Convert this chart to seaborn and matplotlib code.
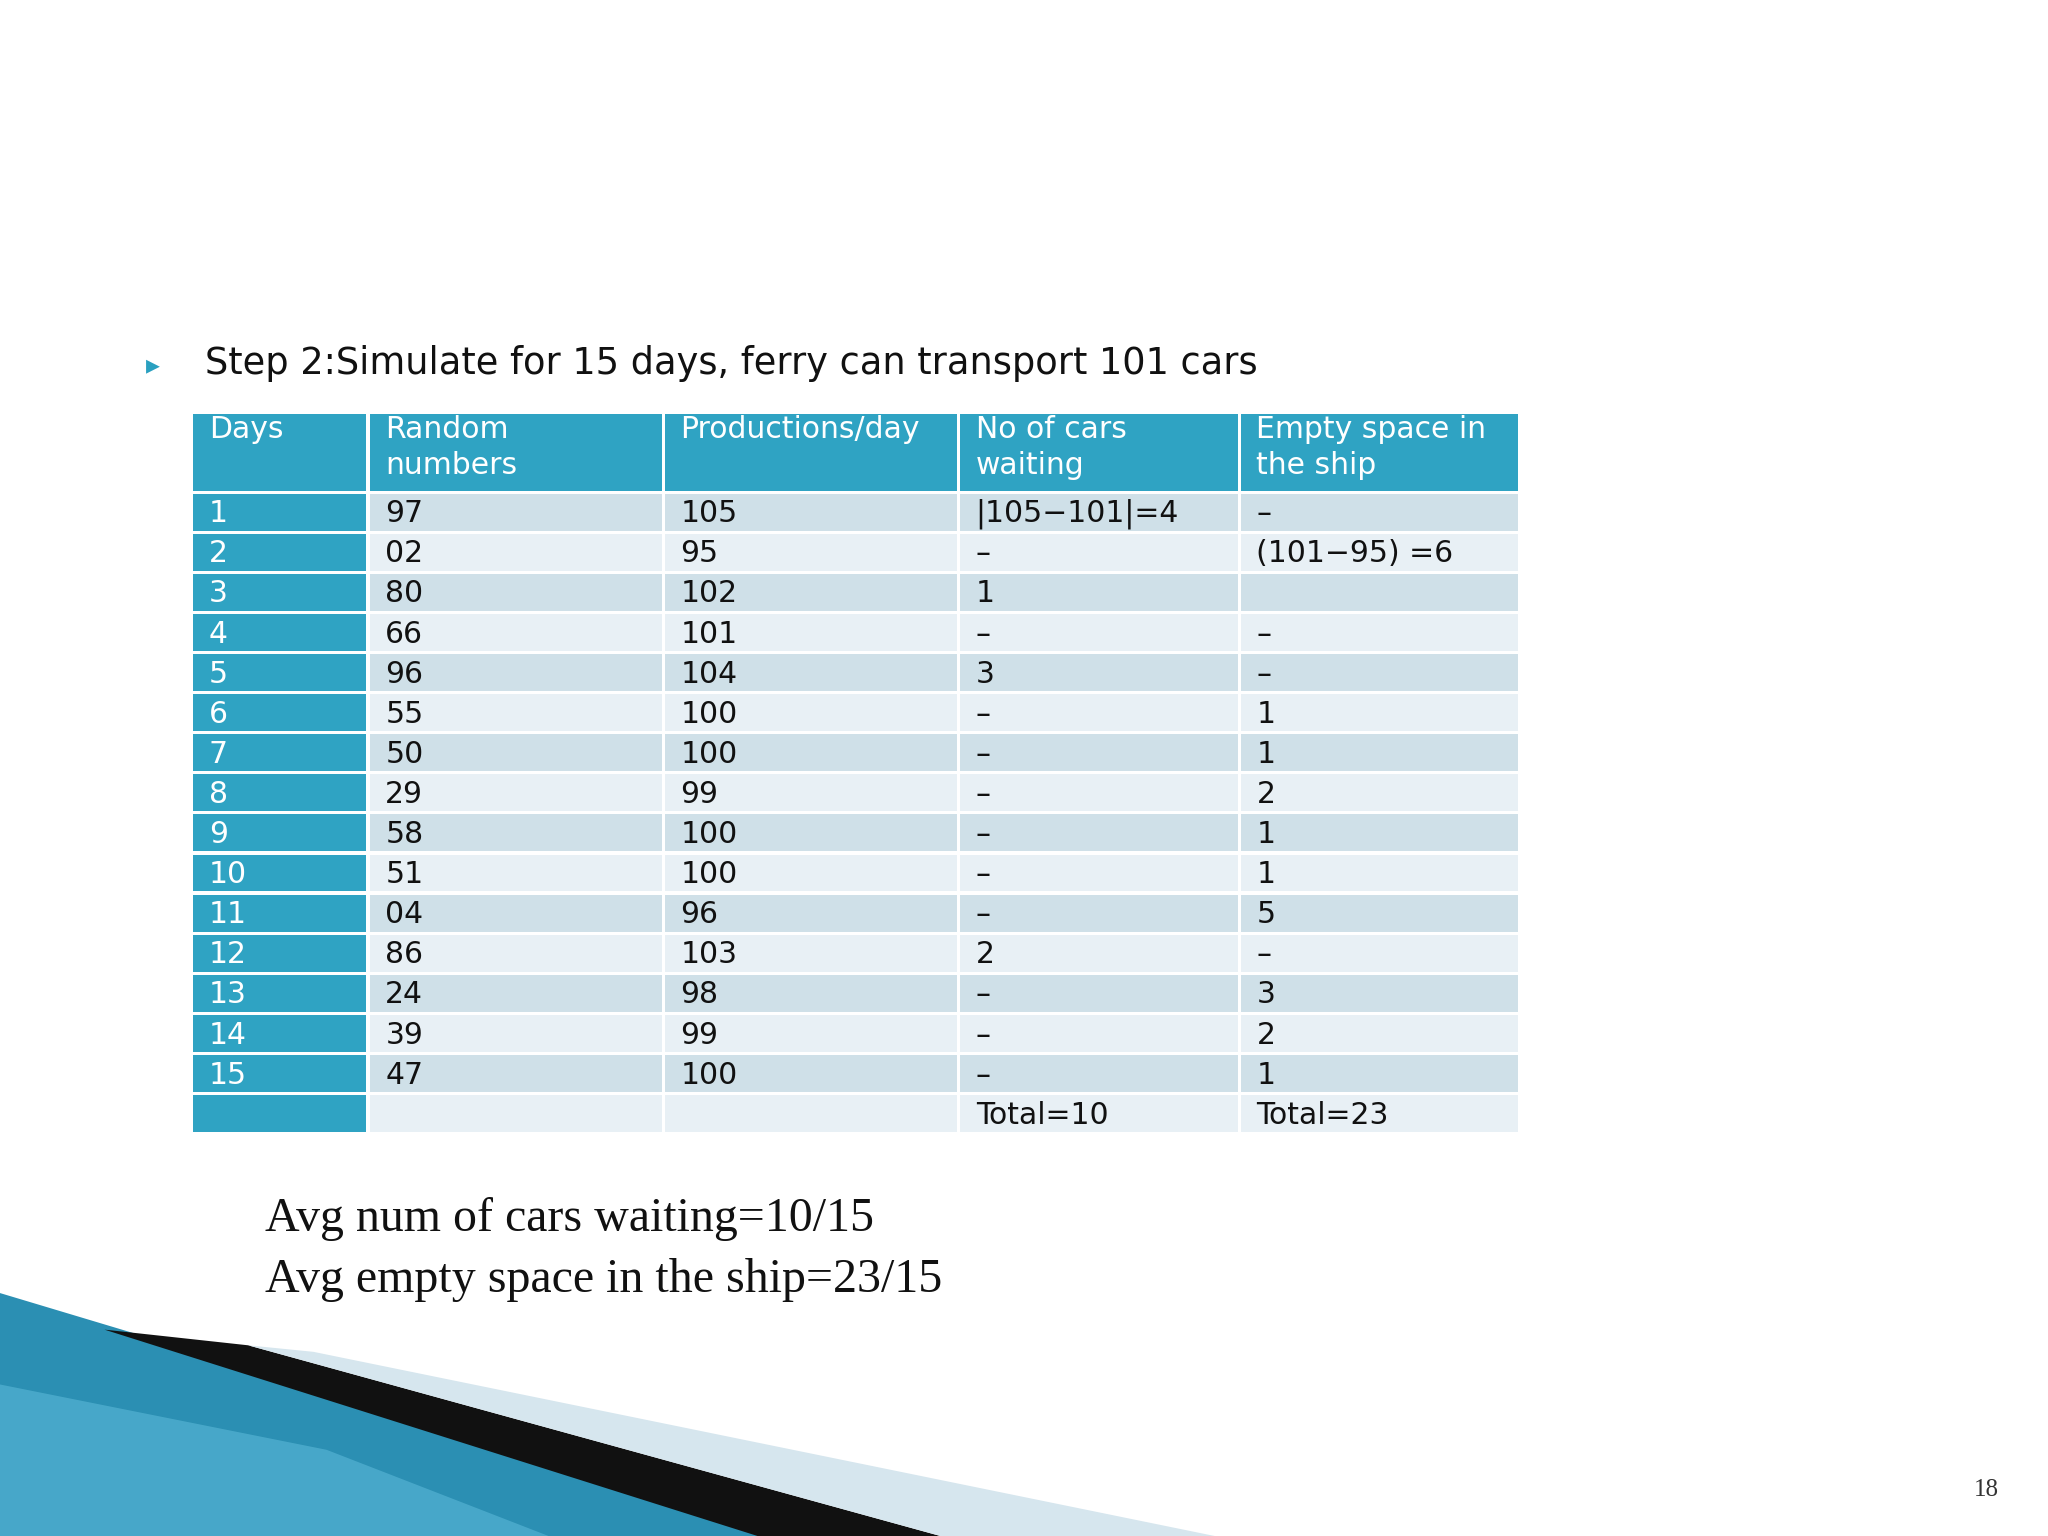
import matplotlib
matplotlib.use("Agg")
import matplotlib.pyplot as plt
import seaborn as sns
from matplotlib.patches import Rectangle, Polygon

sns.set_theme(style="white")
plt.rcParams['font.family'] = ['DejaVu Sans']

title = "Step 2:Simulate for 15 days, ferry can transport 101 cars"
headers = ["Days", "Random\nnumbers", "Productions/day", "No of cars\nwaiting", "Empty space in\nthe ship"]
days = [str(i) for i in range(1, 16)] + [""]
random_numbers = ["97", "02", "80", "66", "96", "55", "50", "29", "58", "51", "04", "86", "24", "39", "47", ""]
productions = ["105", "95", "102", "101", "104", "100", "100", "99", "100", "100", "96", "103", "98", "99", "100", ""]
cars_waiting = ["|105\u2212101|=4", "\u2013", "1", "\u2013", "3", "\u2013", "\u2013", "\u2013", "\u2013", "\u2013", "\u2013", "2", "\u2013", "\u2013", "\u2013", "Total=10"]
empty_space = ["\u2013", "(101\u221295) =6", "", "\u2013", "\u2013", "1", "1", "2", "1", "1", "5", "\u2013", "3", "2", "1", "Total=23"]
summary = ["Avg num of cars waiting=10/15", "Avg empty space in the ship=23/15"]
page = "18"

W, H = 1568, 1176
fig = plt.figure(figsize=(20.48, 15.36), dpi=100)
ax = fig.add_axes([0, 0, 1, 1])
ax.set_xlim(0, W); ax.set_ylim(H, 0); ax.axis("off")

# bottom swoosh decoration
ax.add_patch(Polygon([(0, 990), (100, 1020), (600, 1176), (0, 1176)], color="#2b8fb3", lw=0))
ax.add_patch(Polygon([(0, 1060), (250, 1110), (420, 1176), (0, 1176)], color="#5bb8d8", lw=0, alpha=0.6))
ax.add_patch(Polygon([(80, 1018), (190, 1030), (720, 1176), (580, 1176)], color="#111111", lw=0))
ax.add_patch(Polygon([(190, 1030), (240, 1035), (930, 1176), (720, 1176)], color="#d6e6ee", lw=0))

# title
ax.text(112, 280, "\u25B8", fontsize=20, color="#2aa0c0", va="center", ha="left")
ax.text(157, 278, title, fontsize=26.5, color="#111111", va="center", ha="left")

xb = [148, 283, 509, 735, 950, 1165]
teal = "#2fa3c3"
gap = 2.5
htop, hbot = 317, 376
for j, h in enumerate(headers):
    ax.add_patch(Rectangle((xb[j], htop), xb[j+1]-xb[j]-gap, hbot-htop, color=teal, lw=0))
    ax.text(xb[j]+12, htop+1, h, fontsize=21.5, color="white", va="top", ha="left", linespacing=1.3)

data = [days, random_numbers, productions, cars_waiting, empty_space]
rtop, rh = 378, 30.7
for i in range(len(days)):
    y = rtop + i*rh
    bg = "#cfe0e8" if i % 2 == 0 else "#e8f0f5"
    for j, col in enumerate(data):
        c = teal if j == 0 else bg
        ax.add_patch(Rectangle((xb[j], y), xb[j+1]-xb[j]-gap, rh-gap, color=c, lw=0))
        ax.text(xb[j]+12, y+rh/2, col[i], fontsize=21.5,
                color="white" if j == 0 else "#111111", va="center", ha="left")

ax.text(203, 933, summary[0], fontsize=34.5, family="Liberation Serif", color="#111111", va="center")
ax.text(203, 980, summary[1], fontsize=34.5, family="Liberation Serif", color="#111111", va="center")
ax.text(1530, 1141, page, fontsize=18, family="Liberation Serif", color="#333333", va="center", ha="right")

fig.savefig("out.png", dpi=100)
